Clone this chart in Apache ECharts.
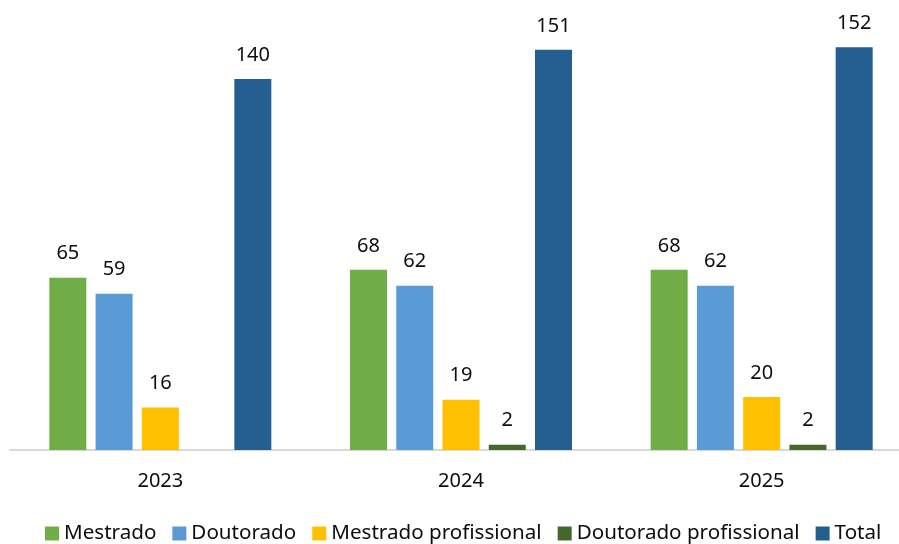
<!DOCTYPE html>
<html>
<head>
<meta charset="utf-8">
<script src="https://cdn.jsdelivr.net/npm/echarts@6/dist/echarts.min.js"></script>
<style>
  html, body { margin: 0; padding: 0; background: #fff; }
  #chart { width: 899px; height: 544px; }
</style>
</head>
<body>
<div id="chart"></div>
<script>
var years = ['2023', '2024', '2025'];
var mestrado = [65, 68, 68];
var doutorado = [59, 62, 62];
var mestradoProf = [16, 19, 20];
var doutoradoProf = [0, 2, 2];
var total = [140, 151, 152];

var seriesNames = ['Mestrado', 'Doutorado', 'Mestrado profissional', 'Doutorado profissional', 'Total'];
var seriesData = [mestrado, doutorado, mestradoProf, doutoradoProf, total];
var colors = ['#70ad47', '#5b9bd5', '#ffc000', '#43682b', '#255e91'];

var font = 'Noto Sans';

var chart = echarts.init(document.getElementById('chart'));

var series = seriesNames.map(function (name, i) {
    return {
        name: name,
        type: 'bar',
        data: seriesData[i],
        barWidth: 37,
        barGap: '25%',
        itemStyle: { color: colors[i] },
        label: {
            show: true,
            position: 'top',
            distance: 14,
            color: '#0d0d0d',
            fontFamily: font,
            fontSize: 20,
            formatter: function (p) { return p.value ? p.value : ''; }
        }
    };
});

var option = {
    animation: false,
    color: colors,
    grid: { left: 10, width: 902, top: 26, bottom: 94, outerBoundsMode: 'none', containLabel: false },
    legend: {
        data: seriesNames,
        left: 40,
        top: 518,
        width: 880,
        icon: 'rect',
        itemWidth: 14,
        itemHeight: 14,
        itemGap: 16,
        textStyle: { color: '#0d0d0d', fontFamily: font, fontSize: 20.6 }
    },
    xAxis: {
        type: 'category',
        data: years,
        axisLine: { lineStyle: { color: '#d9d9d9', width: 2 } },
        axisTick: { show: false },
        axisLabel: { color: '#0d0d0d', fontFamily: font, fontSize: 20, margin: 21 }
    },
    yAxis: {
        type: 'value',
        min: 0,
        max: 160,
        show: false,
        splitLine: { show: false }
    },
    series: series
};

chart.setOption(option, true);
</script>
</body>
</html>
